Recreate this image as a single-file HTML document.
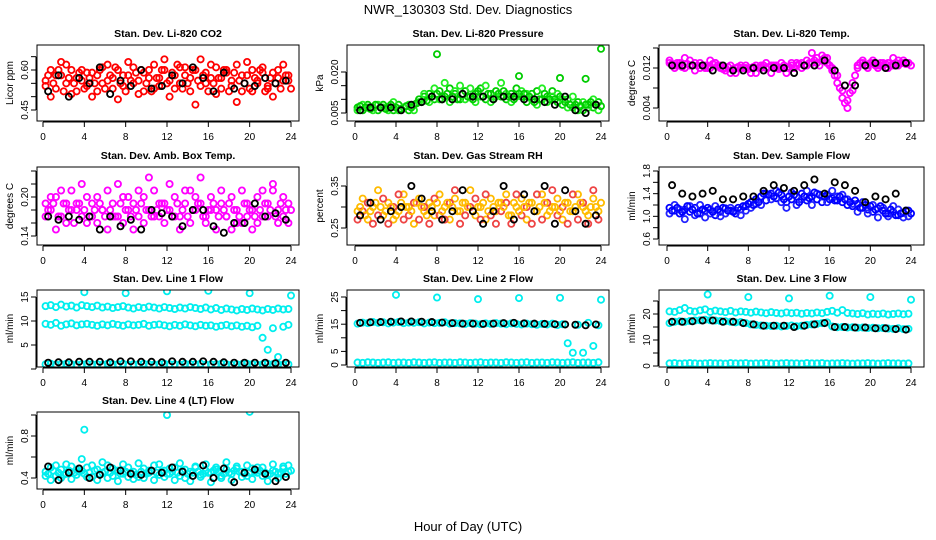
<!DOCTYPE html>
<html><head><meta charset="utf-8"><style>
html,body{margin:0;padding:0;background:#fff;}
svg{display:block;font-family:"Liberation Sans",sans-serif;}
</style></head><body>
<svg id="chart" width="936" height="540" viewBox="0 0 936 540">
<text x="468" y="14" text-anchor="middle" font-size="13">NWR_130303  Std. Dev. Diagnostics</text>
<text x="468" y="531" text-anchor="middle" font-size="13">Hour of Day (UTC)</text>
</svg>
<script>
const H48=[0.25,0.75,1.25,1.75,2.25,2.75,3.25,3.75,4.25,4.75,5.25,5.75,6.25,6.75,7.25,7.75,8.25,8.75,9.25,9.75,10.25,10.75,11.25,11.75,12.25,12.75,13.25,13.75,14.25,14.75,15.25,15.75,16.25,16.75,17.25,17.75,18.25,18.75,19.25,19.75,20.25,20.75,21.25,21.75,22.25,22.75,23.25,23.75];
const H48b=[0.5,1.0,1.5,2.0,2.5,3.0,3.5,4.0,4.5,5.0,5.5,6.0,6.5,7.0,7.5,8.0,8.5,9.0,9.5,10.0,10.5,11.0,11.5,12.0,12.5,13.0,13.5,14.0,14.5,15.0,15.5,16.0,16.5,17.0,17.5,18.0,18.5,19.0,19.5,20.0,20.5,21.0,21.5,22.0,22.5,23.0,23.5,24.0];
const H24=[0.5,1.5,2.5,3.5,4.5,5.5,6.5,7.5,8.5,9.5,10.5,11.5,12.5,13.5,14.5,15.5,16.5,17.5,18.5,19.5,20.5,21.5,22.5,23.5];
const HOUT=[4,8,12,16,20,24];
const xTicks=[0,4,8,12,16,20,24];

const co2A=[0.56,0.60,0.53,0.58,0.62,0.51,0.57,0.60,0.54,0.59,0.52,0.61,0.56,0.53,0.60,0.58,0.63,0.55,0.51,0.59,0.57,0.62,0.54,0.60,0.56,0.53,0.61,0.58,0.52,0.60,0.64,0.55,0.57,0.61,0.53,0.59,0.56,0.62,0.52,0.58,0.60,0.55,0.61,0.53,0.59,0.57,0.62,0.56];
const co2B=[0.54,0.50,0.58,0.63,0.55,0.60,0.52,0.56,0.59,0.50,0.58,0.55,0.62,0.57,0.49,0.54,0.58,0.61,0.56,0.52,0.60,0.53,0.57,0.64,0.50,0.58,0.55,0.61,0.57,0.47,0.54,0.59,0.62,0.51,0.57,0.60,0.54,0.48,0.58,0.63,0.52,0.56,0.59,0.54,0.50,0.60,0.56,0.58];
const co2C=[0.58,0.55,0.60,0.52,0.57,0.55,0.59,0.53,0.57,0.55,0.60,0.53,0.58,0.61,0.55,0.52,0.56,0.59,0.60,0.55,0.52,0.57,0.60,0.55,0.59,0.62,0.53,0.55,0.60,0.56,0.58,0.52,0.55,0.57,0.60,0.52,0.59,0.56,0.55,0.53,0.57,0.60,0.52,0.57,0.55,0.53,0.58,0.53];
const co2K=[0.52,0.58,0.50,0.57,0.55,0.61,0.51,0.56,0.54,0.60,0.53,0.54,0.58,0.55,0.61,0.57,0.52,0.59,0.53,0.55,0.54,0.57,0.55,0.56];

const prA=[0.007,0.006,0.008,0.007,0.006,0.008,0.007,0.006,0.008,0.007,0.006,0.008,0.010,0.011,0.012,0.010,0.013,0.011,0.014,0.012,0.010,0.013,0.011,0.012,0.014,0.010,0.012,0.013,0.011,0.010,0.012,0.014,0.011,0.009,0.012,0.013,0.010,0.011,0.013,0.009,0.008,0.010,0.007,0.009,0.006,0.008,0.007,0.009];
const prB=[0.006,0.008,0.007,0.006,0.008,0.007,0.006,0.009,0.006,0.007,0.008,0.006,0.009,0.012,0.009,0.014,0.010,0.016,0.009,0.013,0.015,0.010,0.014,0.009,0.011,0.015,0.009,0.011,0.016,0.012,0.009,0.011,0.013,0.012,0.010,0.008,0.014,0.009,0.011,0.012,0.010,0.007,0.011,0.006,0.009,0.007,0.010,0.006];
const prC=[0.0075,0.007,0.0065,0.008,0.007,0.0065,0.008,0.007,0.0065,0.0075,0.007,0.0085,0.009,0.0095,0.011,0.012,0.010,0.012,0.011,0.010,0.012,0.011,0.010,0.013,0.011,0.012,0.010,0.012,0.013,0.011,0.010,0.012,0.012,0.011,0.009,0.010,0.012,0.010,0.010,0.011,0.009,0.008,0.008,0.0075,0.008,0.009,0.008,0.0075];
const prK=[0.006,0.007,0.007,0.007,0.006,0.008,0.009,0.011,0.010,0.010,0.012,0.011,0.011,0.010,0.011,0.011,0.010,0.010,0.009,0.008,0.011,0.006,0.005,0.008];

const tpA=[0.013,0.0125,0.013,0.012,0.0135,0.013,0.012,0.0125,0.0135,0.013,0.012,0.0115,0.011,0.012,0.0125,0.012,0.011,0.0125,0.012,0.013,0.0125,0.012,0.013,0.012,0.0125,0.013,0.012,0.0135,0.013,0.014,0.0135,0.013,0.0115,0.009,0.006,0.004,0.0075,0.012,0.013,0.0125,0.013,0.012,0.0125,0.013,0.0125,0.0135,0.013,0.013];
const tpB=[0.0135,0.012,0.0125,0.014,0.0125,0.0115,0.013,0.012,0.012,0.013,0.0125,0.012,0.0125,0.011,0.012,0.0125,0.012,0.011,0.0125,0.012,0.011,0.0125,0.012,0.011,0.013,0.0125,0.013,0.0125,0.015,0.013,0.0145,0.014,0.012,0.0105,0.0075,0.0055,0.009,0.0125,0.0135,0.012,0.0135,0.0125,0.013,0.012,0.014,0.0125,0.0135,0.013];
const tpC=[0.0128,0.013,0.0122,0.0128,0.0126,0.0125,0.0125,0.012,0.0128,0.0125,0.0118,0.0122,0.0118,0.0122,0.012,0.0118,0.0122,0.012,0.0125,0.0122,0.0125,0.0118,0.0125,0.0122,0.012,0.0128,0.0125,0.013,0.0135,0.0125,0.014,0.0125,0.0105,0.008,0.005,0.007,0.0105,0.013,0.0125,0.013,0.0125,0.013,0.0128,0.0125,0.013,0.013,0.0128,0.0125];
const tpK=[0.0125,0.0125,0.0125,0.0125,0.0115,0.0125,0.0115,0.0115,0.012,0.0115,0.012,0.012,0.011,0.0125,0.0125,0.0135,0.0115,0.0085,0.0085,0.0125,0.013,0.012,0.0125,0.013];

const abA=[0.19,0.18,0.20,0.17,0.19,0.21,0.18,0.17,0.20,0.19,0.16,0.18,0.21,0.19,0.17,0.20,0.18,0.19,0.17,0.20,0.18,0.21,0.17,0.19,0.18,0.20,0.17,0.19,0.21,0.18,0.19,0.17,0.20,0.18,0.19,0.17,0.20,0.18,0.16,0.19,0.18,0.20,0.17,0.19,0.21,0.18,0.17,0.19];
const abB=[0.17,0.20,0.15,0.21,0.16,0.18,0.19,0.22,0.16,0.17,0.20,0.18,0.15,0.17,0.22,0.16,0.20,0.15,0.21,0.16,0.23,0.17,0.19,0.16,0.22,0.17,0.15,0.21,0.16,0.20,0.23,0.16,0.18,0.15,0.21,0.17,0.15,0.16,0.21,0.17,0.15,0.16,0.21,0.17,0.22,0.16,0.20,0.16];
const abC=[0.18,0.19,0.17,0.19,0.18,0.16,0.19,0.18,0.17,0.18,0.19,0.17,0.18,0.17,0.19,0.18,0.17,0.18,0.19,0.18,0.17,0.18,0.19,0.18,0.17,0.19,0.18,0.17,0.18,0.19,0.17,0.18,0.19,0.17,0.18,0.19,0.18,0.17,0.19,0.18,0.17,0.18,0.19,0.18,0.17,0.19,0.18,0.18];
const abK=[0.17,0.165,0.17,0.165,0.17,0.15,0.17,0.155,0.165,0.15,0.18,0.175,0.17,0.155,0.18,0.18,0.155,0.145,0.16,0.16,0.19,0.17,0.175,0.165];

const rhA=[0.29,0.32,0.27,0.30,0.34,0.28,0.31,0.27,0.29,0.33,0.30,0.26,0.32,0.29,0.31,0.28,0.33,0.30,0.27,0.32,0.29,0.31,0.34,0.28,0.30,0.27,0.32,0.29,0.31,0.33,0.28,0.30,0.32,0.27,0.31,0.29,0.33,0.28,0.30,0.32,0.27,0.31,0.29,0.33,0.30,0.28,0.32,0.29];
const rhB=[0.27,0.29,0.31,0.26,0.28,0.32,0.26,0.30,0.33,0.27,0.28,0.31,0.27,0.30,0.26,0.32,0.28,0.27,0.31,0.34,0.26,0.28,0.30,0.32,0.27,0.33,0.28,0.26,0.29,0.31,0.26,0.33,0.28,0.30,0.26,0.33,0.27,0.31,0.34,0.28,0.30,0.26,0.33,0.27,0.31,0.26,0.34,0.27];
const rhC=[0.30,0.28,0.29,0.31,0.30,0.29,0.30,0.28,0.31,0.30,0.29,0.31,0.30,0.28,0.30,0.31,0.29,0.31,0.30,0.29,0.31,0.30,0.29,0.30,0.31,0.29,0.30,0.31,0.30,0.28,0.31,0.29,0.30,0.31,0.29,0.30,0.31,0.29,0.30,0.29,0.31,0.29,0.30,0.31,0.29,0.30,0.30,0.31];
const rhK=[0.28,0.31,0.27,0.29,0.30,0.35,0.32,0.29,0.27,0.29,0.34,0.29,0.26,0.29,0.35,0.27,0.33,0.29,0.35,0.26,0.34,0.29,0.26,0.28];

const sfA=[1.15,1.10,1.05,1.12,1.08,1.15,1.05,1.10,1.12,1.02,1.08,1.14,1.10,1.05,1.12,1.18,1.25,1.30,1.35,1.28,1.40,1.32,1.38,1.25,1.30,1.35,1.40,1.28,1.35,1.30,1.25,1.38,1.32,1.28,1.25,1.20,1.18,1.22,1.15,1.12,1.08,1.14,1.10,1.05,1.08,1.02,1.06,1.10];
const sfB=[1.05,1.20,1.12,0.95,1.18,1.02,1.20,0.98,1.05,1.18,1.00,1.05,1.15,1.10,1.02,1.10,1.15,1.22,1.20,1.40,1.30,1.45,1.25,1.15,1.42,1.20,1.30,1.45,1.20,1.40,1.35,1.25,1.45,1.35,1.38,1.30,1.22,1.08,1.25,1.05,1.20,0.98,1.15,1.00,1.18,1.12,0.98,1.00];
const sfC=[1.10,1.15,1.08,1.18,1.12,1.05,1.12,1.15,1.08,1.12,1.15,1.10,1.08,1.15,1.18,1.22,1.20,1.25,1.40,1.38,1.35,1.42,1.30,1.35,1.38,1.25,1.35,1.32,1.42,1.38,1.35,1.30,1.28,1.35,1.30,1.25,1.28,1.15,1.20,1.18,1.12,1.18,1.05,1.12,1.02,1.05,1.10,1.05];
const sfK=[1.55,1.40,1.35,1.40,1.45,1.30,1.30,1.35,1.35,1.45,1.55,1.50,1.45,1.55,1.65,1.40,1.60,1.55,1.45,1.25,1.35,1.30,1.40,1.10];

const l1Top=[13.1,13.3,12.9,13.4,13.0,13.2,12.8,13.3,13.1,12.9,13.2,12.8,13.0,12.7,12.9,13.1,12.8,12.6,12.9,12.7,13.0,12.8,12.6,12.9,12.7,12.5,12.8,12.6,12.9,12.7,12.5,12.8,12.4,12.7,12.3,12.6,12.4,12.2,12.5,12.3,12.6,12.4,12.2,12.5,12.3,12.6,12.4,12.5];
const l1Mid=[9.4,9.2,9.6,9.0,9.3,9.5,9.1,9.3,9.4,9.2,9.0,9.3,9.1,9.4,9.2,9.0,9.3,9.1,9.2,9.4,9.0,9.2,9.3,9.1,8.9,9.2,9.0,9.3,9.1,8.9,9.2,9.0,9.1,8.8,9.0,9.2,8.9,9.1,8.8,9.0,8.7,9.0,6.5,4.0,8.5,2.5,8.8,9.2];
const l1Low=[1.0,1.1,0.9,1.0,1.1,1.0,0.9,1.0,1.1,1.0,1.0,0.9,1.1,1.0,1.0,1.1,0.9,1.0,1.0,1.1,1.0,0.9,1.0,1.1,1.0,1.0,0.9,1.1,1.0,1.0,1.1,0.9,1.0,1.0,1.1,1.0,0.9,1.0,1.0,1.1,1.0,0.9,1.0,1.1,1.0,1.0,0.9,1.0];
const l1Out=[16.0,15.8,16.2,16.3,15.8,15.3];
const l1K=[1.3,1.4,1.4,1.5,1.5,1.5,1.4,1.6,1.6,1.5,1.5,1.4,1.6,1.5,1.5,1.6,1.5,1.4,1.3,1.3,1.3,1.3,1.2,1.3];

const l2Top=[15.2,15.6,15.4,15.8,15.5,15.7,15.3,15.6,15.8,15.4,15.6,15.5,15.7,15.3,15.6,15.4,15.5,15.7,15.2,15.4,15.3,15.1,15.4,15.2,15.0,15.3,15.1,15.4,15.2,15.0,15.3,15.1,14.9,15.2,15.0,14.8,15.1,14.9,15.2,14.7,15.0,8.0,4.5,14.8,4.5,15.5,7.0,14.6];
const l2Low=[0.9,0.8,1.0,0.9,0.8,0.9,1.0,0.8,0.9,0.9,0.8,1.0,0.9,0.8,0.9,1.0,0.8,0.9,0.9,0.8,1.0,0.9,0.8,0.9,1.0,0.8,0.9,0.9,0.8,1.0,0.9,0.8,0.9,1.0,0.8,0.9,0.9,0.8,1.0,0.9,0.8,0.9,1.0,0.8,0.9,0.9,0.8,1.0];
const l2Out=[25.8,24.8,24.2,24.6,24.7,24.0];
const l2K=[15.5,15.7,15.8,15.9,16.0,16.0,15.9,15.8,15.6,15.4,15.2,15.2,15.1,15.2,15.4,15.5,15.3,15.2,15.1,15.0,14.9,14.8,14.6,14.9];

const l3Top=[21.0,20.8,21.5,22.3,21.2,20.9,21.4,21.8,20.8,21.3,21.0,20.7,21.2,20.6,21.0,20.8,20.5,20.9,20.6,20.3,20.7,20.4,20.2,20.6,20.3,20.5,20.1,20.4,20.2,20.6,20.3,20.8,21.2,20.5,21.5,20.4,20.2,20.0,20.3,19.8,20.1,19.9,20.2,19.8,20.0,20.2,19.9,20.1];
const l3Mid=[16.5,17.0,17.2,17.0,17.3,17.5,17.6,17.8,17.6,17.5,17.3,17.2,17.0,16.8,16.9,16.5,16.0,15.8,15.6,15.5,15.4,15.5,15.2,15.4,15.6,15.3,15.5,15.8,16.0,16.2,16.5,16.8,15.2,14.9,15.0,14.8,14.9,14.7,14.8,14.6,14.7,14.5,14.6,14.4,14.3,14.5,14.2,14.3];
const l3Low=[1.0,1.1,0.9,1.0,1.1,1.0,0.9,1.0,1.1,1.0,1.0,0.9,1.1,1.0,1.0,1.1,0.9,1.0,1.0,1.1,1.0,0.9,1.0,1.1,1.0,1.0,0.9,1.1,1.0,1.0,1.1,0.9,1.0,1.0,1.1,1.0,0.9,1.0,1.0,1.1,1.0,0.9,1.0,1.1,1.0,1.0,0.9,1.0];
const l3Out=[27.5,26.5,26.0,27.0,26.5,25.5];
const l3K=[17.0,17.0,17.2,17.5,17.5,17.0,17.0,16.5,16.0,15.5,15.5,15.5,15.0,15.5,16.0,16.5,15.0,15.0,14.8,14.8,14.5,14.5,14.2,14.0];

const l4A=[0.46,0.50,0.42,0.48,0.44,0.51,0.43,0.47,0.50,0.41,0.48,0.45,0.52,0.42,0.47,0.44,0.50,0.46,0.41,0.49,0.45,0.52,0.43,0.47,0.44,0.50,0.42,0.48,0.46,0.51,0.43,0.47,0.45,0.50,0.42,0.48,0.44,0.51,0.46,0.42,0.49,0.45,0.50,0.43,0.47,0.44,0.51,0.46];
const l4B=[0.42,0.38,0.52,0.40,0.53,0.39,0.48,0.58,0.41,0.52,0.38,0.55,0.40,0.49,0.37,0.53,0.41,0.39,0.54,0.40,0.47,0.38,0.53,0.41,0.49,0.38,0.54,0.40,0.37,0.50,0.41,0.53,0.36,0.48,0.40,0.55,0.38,0.49,0.41,0.52,0.39,0.50,0.42,0.37,0.53,0.40,0.49,0.52];
const l4C=[0.44,0.47,0.45,0.43,0.47,0.45,0.46,0.44,0.45,0.47,0.44,0.46,0.45,0.47,0.44,0.46,0.45,0.43,0.46,0.44,0.47,0.45,0.46,0.44,0.46,0.45,0.47,0.44,0.45,0.46,0.44,0.45,0.47,0.46,0.44,0.45,0.47,0.46,0.44,0.45,0.46,0.47,0.45,0.44,0.46,0.45,0.44,0.47];
const l4Out=[0.86,1.0,1.03];
const l4OutH=[4,12,20];
const l4K=[0.51,0.38,0.45,0.49,0.40,0.43,0.50,0.47,0.44,0.43,0.47,0.45,0.50,0.46,0.42,0.52,0.40,0.49,0.36,0.45,0.48,0.44,0.37,0.41];

const svg=document.getElementById('chart');
const NS='http://www.w3.org/2000/svg';
function mk(tag,attrs,parent){const e=document.createElementNS(NS,tag);for(const k in attrs)e.setAttribute(k,attrs[k]);(parent||svg).appendChild(e);return e;}

const colL=[37,347,659],colR=[299,609,924],x0p=[43,355,667],x24p=[291,601,911];
const rowT=[45,167,290,412],rowB=[121,245,367,489];

function panel(cfg){
  const g=mk('g',{});
  
  
  const L=colL[cfg.c],R=colR[cfg.c],T=rowT[cfg.r],B=rowB[cfg.r];
  const xs=h=>x0p[cfg.c]+(x24p[cfg.c]-x0p[cfg.c])*h/24;
  const ys=v=>cfg.p1+(v-cfg.v1)*(cfg.p2-cfg.p1)/(cfg.v2-cfg.v1);
  const t=mk('text',{x:(L+R)/2,y:T-8,'text-anchor':'middle','font-size':'10.5','font-weight':'bold'},g);
  t.textContent=cfg.title;
  
  
  const cp=mk('clipPath',{id:'clip'+cfg.c+cfg.r},g);
  mk('rect',{x:L,y:T,width:R-L,height:B-T},cp);
  const cg=mk('g',{},g);
  cg.setAttribute('clip-path','url(#clip'+cfg.c+cfg.r+')');
  cfg.series.forEach(s=>{
    s.y.forEach((v,i)=>{
      const c=mk('circle',{cx:xs(s.x[i]),cy:ys(v),r:3.1,fill:'none',stroke:s.col,'stroke-width':1.8},cg);
      
      
    });
  });
  const box=mk('rect',{x:L,y:T,width:R-L,height:B-T,fill:'none',stroke:'#000','stroke-width':1},g);
  
  
  const xa=mk('g',{},g);
  
  
  mk('line',{x1:xs(0),x2:xs(24),y1:B+1,y2:B+1,stroke:'#000'},xa);
  xTicks.forEach(h=>{
    mk('line',{x1:xs(h),x2:xs(h),y1:B+1,y2:B+6,stroke:'#000'},xa);
    const tl=mk('text',{x:xs(h),y:B+19,'text-anchor':'middle','font-size':'10'},xa);
    tl.textContent=h;
  });
  const ya=mk('g',{},g);
  
  
  mk('line',{x1:L-1,x2:L-1,y1:ys(cfg.ticks[0]),y2:ys(cfg.ticks[cfg.ticks.length-1]),stroke:'#000'},ya);
  cfg.ticks.forEach(v=>{
    mk('line',{x1:L-6,x2:L-1,y1:ys(v),y2:ys(v),stroke:'#000'},ya);
  });
  cfg.labels.forEach((lab,i)=>{
    const v=cfg.labelVals[i];
    const tl=mk('text',{x:0,y:0,'text-anchor':'middle','font-size':'10',transform:`translate(${L-9},${ys(v)}) rotate(-90)`},ya);
    tl.textContent=lab;
  });
  const yt=mk('text',{x:0,y:0,'text-anchor':'middle','font-size':'10',transform:`translate(${L-24},${(T+B)/2}) rotate(-90)`},g);
  yt.textContent=cfg.ytitle;
  
  
}
const K='#000';
panel({name:'panel-co2',c:0,r:0,title:'Stan. Dev. Li-820 CO2',ytitle:'Licor ppm',v1:0.60,p1:70,v2:0.45,p2:110,ticks:[0.45,0.50,0.55,0.60,0.65],labels:['0.45','0.60'],labelVals:[0.45,0.60],
  series:[{x:H48,y:co2A,col:'#f00'},{x:H48,y:co2B,col:'#f00'},{x:H48b,y:co2C,col:'#f00'},{x:H24,y:co2K,col:K}]});
panel({name:'panel-pressure',c:1,r:0,title:'Stan. Dev. Li-820 Pressure',ytitle:'kPa',v1:0.005,p1:113,v2:0.020,p2:72,ticks:[0.005,0.010,0.015,0.020],labels:['0.005','0.020'],labelVals:[0.005,0.020],
  series:[{x:H48,y:prA,col:'#0c0'},{x:H48,y:prB,col:'#2e2'},{x:H48b,y:prC,col:'#0c0'},{x:[8,16,20,22.5,24],y:[0.0265,0.0185,0.0178,0.0175,0.0285],col:'#0c0'},{x:H24,y:prK,col:K}]});
panel({name:'panel-temp',c:2,r:0,title:'Stan. Dev. Li-820 Temp.',ytitle:'degrees C',v1:0.012,p1:68,v2:0.004,p2:108,ticks:[0.004,0.008,0.012,0.016],labels:['0.004','0.012'],labelVals:[0.004,0.012],
  series:[{x:H48,y:tpA,col:'#f0f'},{x:H48,y:tpB,col:'#f0f'},{x:H48b,y:tpC,col:'#f0f'},{x:H24,y:tpK,col:K}]});
panel({name:'panel-amb-box-temp',c:0,r:1,title:'Stan. Dev. Amb. Box Temp.',ytitle:'degrees C',v1:0.20,p1:197,v2:0.14,p2:236,ticks:[0.14,0.16,0.18,0.20,0.22,0.24],labels:['0.14','0.20'],labelVals:[0.14,0.20],
  series:[{x:H48,y:abA,col:'#f0f'},{x:H48,y:abB,col:'#f0f'},{x:H48b,y:abC,col:'#f0f'},{x:H24,y:abK,col:K}]});
panel({name:'panel-rh',c:1,r:1,title:'Stan. Dev. Gas Stream RH',ytitle:'percent',v1:0.35,p1:186,v2:0.25,p2:228,ticks:[0.25,0.30,0.35],labels:['0.25','0.35'],labelVals:[0.25,0.35],
  series:[{x:H48,y:rhA,col:'#fb0'},{x:H48,y:rhB,col:'#e44'},{x:H48b,y:rhC,col:'#fb0'},{x:H24,y:rhK,col:K}]});
panel({name:'panel-sample-flow',c:2,r:1,title:'Stan. Dev. Sample Flow',ytitle:'ml/min',v1:1.8,p1:171,v2:0.6,p2:239,ticks:[0.6,0.8,1.0,1.2,1.4,1.6,1.8],labels:['0.6','1.0','1.4','1.8'],labelVals:[0.6,1.0,1.4,1.8],
  series:[{x:H48,y:sfA,col:'#00f'},{x:H48,y:sfB,col:'#22f'},{x:H48b,y:sfC,col:'#00f'},{x:H24,y:sfK,col:K}]});
panel({name:'panel-line1-flow',c:0,r:2,title:'Stan. Dev. Line 1 Flow',ytitle:'ml/min',v1:15,p1:297,v2:0,p2:369,ticks:[0,5,10,15],labels:['5','10','15'],labelVals:[5,10,15],
  series:[{x:H48,y:l1Top,col:'#0ee'},{x:H48,y:l1Mid,col:'#0ee'},{x:H48,y:l1Low,col:'#0ee'},{x:HOUT,y:l1Out,col:'#0ee'},{x:H24,y:l1K,col:K}]});
panel({name:'panel-line2-flow',c:1,r:2,title:'Stan. Dev. Line 2 Flow',ytitle:'ml/min',v1:25,p1:297,v2:0,p2:365,ticks:[0,5,10,15,20,25],labels:['0','5','15','25'],labelVals:[0,5,15,25],
  series:[{x:H48,y:l2Top,col:'#0ee'},{x:H48,y:l2Low,col:'#0ee'},{x:HOUT,y:l2Out,col:'#0ee'},{x:H24,y:l2K,col:K}]});
panel({name:'panel-line3-flow',c:2,r:2,title:'Stan. Dev. Line 3 Flow',ytitle:'ml/min',v1:20,p1:314,v2:0,p2:366,ticks:[0,5,10,15,20,25],labels:['0','10','20'],labelVals:[0,10,20],
  series:[{x:H48,y:l3Top,col:'#0ee'},{x:H48,y:l3Mid,col:'#0ee'},{x:H48,y:l3Low,col:'#0ee'},{x:HOUT,y:l3Out,col:'#0ee'},{x:H24,y:l3K,col:K}]});
panel({name:'panel-line4-flow',c:0,r:3,title:'Stan. Dev. Line 4 (LT) Flow',ytitle:'ml/min',v1:0.8,p1:436,v2:0.4,p2:478,ticks:[0.4,0.6,0.8,1.0],labels:['0.4','0.8'],labelVals:[0.4,0.8],
  series:[{x:H48,y:l4A,col:'#0ee'},{x:H48,y:l4B,col:'#0ee'},{x:H48b,y:l4C,col:'#0ee'},{x:l4OutH,y:l4Out,col:'#0ee'},{x:H24,y:l4K,col:K}]});
</script>
</body></html>
